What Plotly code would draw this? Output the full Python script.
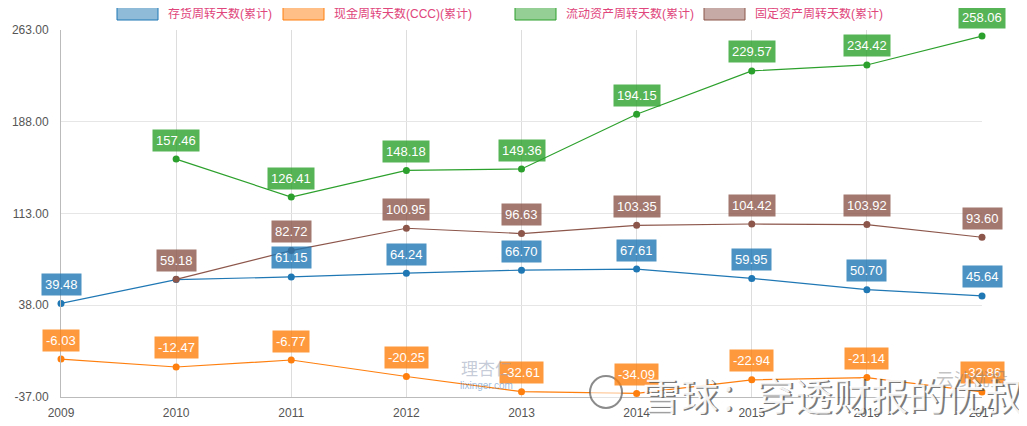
import plotly.graph_objects as go

years = [2009, 2010, 2011, 2012, 2013, 2014, 2015, 2016, 2017]
inventory_days = [39.48, 59.0, 61.15, 64.24, 66.70, 67.61, 59.95, 50.70, 45.64]
ccc_days = [-6.03, -12.47, -6.77, -20.25, -32.61, -34.09, -22.94, -21.14, -32.86]
current_asset_days = [None, 157.46, 126.41, 148.18, 149.36, 194.15, 229.57, 234.42, 258.06]
fixed_asset_days = [None, 59.18, 82.72, 100.95, 96.63, 103.35, 104.42, 103.92, 93.60]
series_names = ["存货周转天数(累计)", "现金周转天数(CCC)(累计)", "流动资产周转天数(累计)", "固定资产周转天数(累计)"]
y_ticks = [-37, 38, 113, 188, 263]

series = [
    (series_names[0], inventory_days, "#1f77b4", "rgba(31,119,180,0.8)", "rgba(31,119,180,0.5)", {2010}),
    (series_names[1], ccc_days, "#ff7f0e", "rgba(255,127,14,0.8)", "rgba(255,127,14,0.5)", set()),
    (series_names[2], current_asset_days, "#2ca02c", "rgba(44,160,44,0.8)", "rgba(44,160,44,0.5)", set()),
    (series_names[3], fixed_asset_days, "#8c564b", "rgba(140,86,75,0.8)", "rgba(140,86,75,0.5)", set()),
]

FONT = "Liberation Sans, Arial, Noto Sans CJK SC, sans-serif"

fig = go.Figure()
annotations = []
for name, vals, color, lab_bg, _, hide in series:
    fig.add_trace(go.Scatter(
        x=years, y=vals, name=name, mode="lines+markers",
        line=dict(color=color, width=1.2),
        marker=dict(color=color, size=7),
        cliponaxis=False, showlegend=False, connectgaps=False,
    ))
for name, vals, color, lab_bg, _, hide in series:
    for x, v in zip(years, vals):
        if v is None or x in hide:
            continue
        annotations.append(dict(
            x=x, y=v, xref="x", yref="y", text=f"{v:.2f}", showarrow=False,
            xanchor="center", yanchor="middle",
            yshift=19, bgcolor=lab_bg, borderpad=3,
            font=dict(color="white", size=13, family=FONT),
        ))

# page body has an 8px margin: the figure starts at (8, 8) on screen
OFF = 8
# plot area in screen pixels
X0, X1, Y0, Y1 = 61, 982, 397, 30
def px(xp):
    return (xp - X0) / (X1 - X0)
def py(yp):
    return (Y0 - yp) / (Y0 - Y1)

shapes = []
legend_x = [117, 283, 515, 704]
for (name, vals, color, lab_bg, leg_bg, hide), lx in zip(series, legend_x):
    shapes.append(dict(type="rect", xref="paper", yref="paper",
                       x0=px(lx), x1=px(lx + 41), y0=py(20), y1=py(7),
                       fillcolor=leg_bg, line=dict(color=color, width=1)))
    annotations.append(dict(x=px(lx + 49), y=py(13.5), xref="paper", yref="paper",
                            text=name, showarrow=False, xanchor="left", yanchor="middle",
                            font=dict(color="#e0457b", size=12, family=FONT)))

# watermarks
def wm(x, y, text, color, size, family="Noto Sans CJK SC"):
    annotations.append(dict(x=px(x), y=py(y), xref="paper", yref="paper", text=text,
                            showarrow=False, xanchor="center", yanchor="middle",
                            font=dict(color=color, size=size, family=family)))

wm(486, 367, "理杏仁", "rgba(150,160,185,0.55)", 17)
wm(486, 385, "lixinger.com", "rgba(90,140,200,0.6)", 10, FONT)
wm(972, 378, "云沙优投", "rgba(120,120,120,0.45)", 18)
wm(832 + 1.5, 393 + 1.5, "雪球：穿透财报的优叔", "rgba(80,80,80,0.75)", 38)
wm(832, 393, "雪球：穿透财报的优叔", "rgba(255,255,255,0.92)", 38)
shapes.append(dict(type="circle", xref="paper", yref="paper",
                   x0=px(590), x1=px(622), y0=py(408), y1=py(376),
                   line=dict(color="rgba(90,90,90,0.7)", width=2),
                   fillcolor="rgba(255,255,255,0.6)"))

fig.update_layout(
    width=1027 - OFF, height=426 - OFF,
    margin=dict(l=X0 - OFF, r=(1027 - OFF) - (X1 - OFF), t=Y1 - OFF, b=(426 - OFF) - (Y0 - OFF),
                autoexpand=False),
    paper_bgcolor="white", plot_bgcolor="white",
    font=dict(family=FONT, color="#666666", size=12),
    showlegend=False,
    annotations=annotations, shapes=shapes,
    xaxis=dict(range=[2009, 2017], tickvals=years, ticktext=[str(y) for y in years],
               showgrid=True, gridcolor="#dddddd", gridwidth=1, automargin=False,
               showline=True, linecolor="#bbbbbb", zeroline=False,
               ticks="", ticklabelstandoff=5, tickfont=dict(size=12, color="#555555")),
    yaxis=dict(range=[-37, 263], tickvals=y_ticks, ticktext=[f"{t:.2f}" for t in y_ticks],
               showgrid=True, gridcolor="#e6e6e6", gridwidth=1, automargin=False,
               showline=True, linecolor="#bbbbbb", zeroline=False,
               ticks="", ticklabelstandoff=9, tickfont=dict(size=12, color="#555555")),
)

fig.write_html("out.html")
